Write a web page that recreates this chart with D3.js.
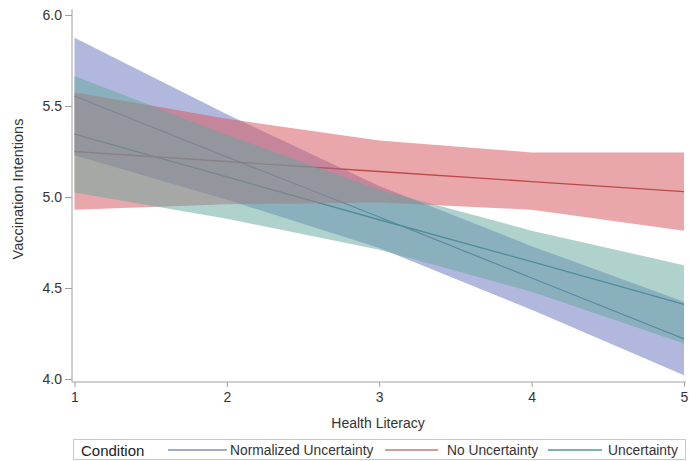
<!DOCTYPE html>
<html>
<head>
<meta charset="utf-8">
<script src="https://cdn.jsdelivr.net/npm/d3@7"></script>
<style>
  body { margin: 0; background: #fff; }
  svg { display: block; font-family: "Liberation Sans", Arial, sans-serif; }
</style>
</head>
<body>
<svg id="chart" width="689" height="461"></svg>
<script>
// ---- data ----
const healthLiteracy = [1, 2, 3, 4, 5];
const conditions = ["Normalized Uncertainty", "No Uncertainty", "Uncertainty"];
const normEst   = [5.555, 5.22, 4.89, 4.555, 4.22];
const normLower = [5.23, 4.985, 4.72, 4.38, 4.02];
const normUpper = [5.875, 5.455, 5.06, 4.73, 4.425];
const noEst     = [5.25, 5.195, 5.14, 5.085, 5.03];
const noLower   = [4.93, 4.96, 4.97, 4.93, 4.815];
const noUpper   = [5.575, 5.43, 5.31, 5.245, 5.245];
const uncEst    = [5.345, 5.11, 4.875, 4.645, 4.41];
const uncLower  = [5.025, 4.88, 4.71, 4.48, 4.195];
const uncUpper  = [5.665, 5.34, 5.04, 4.815, 4.625];
const yTicks = [4.0, 4.5, 5.0, 5.5, 6.0];
const xTicks = [1, 2, 3, 4, 5];

const lineColors = ["#445694", "#a23a2e", "#01665e"];
const fillColors = ["#6b76bd", "#d6575e", "#66a8a0"];

const series = [
  {name: conditions[0], est: normEst, lo: normLower, hi: normUpper},
  {name: conditions[1], est: noEst, lo: noLower, hi: noUpper},
  {name: conditions[2], est: uncEst, lo: uncLower, hi: uncUpper}
];

const svg = d3.select("#chart");
const x = d3.scaleLinear().domain([1, 5]).range([74.5, 684]);
const y = d3.scaleLinear().domain([4, 6]).range([379, 15]);

// lines (drawn beneath the translucent bands)
const line = d3.line().x((d, i) => x(healthLiteracy[i])).y(d => y(d));
series.forEach((s, k) => {
  svg.append("path").attr("d", line(s.est))
    .attr("fill", "none").attr("stroke", lineColors[k]).attr("stroke-width", 1.3);
});
// bands
const area = d3.area()
  .x((d, i) => x(healthLiteracy[i]))
  .y0(d => y(d[0]))
  .y1(d => y(d[1]));
series.forEach((s, k) => {
  const pts = s.lo.map((v, i) => [v, s.hi[i]]);
  svg.append("path").attr("d", area(pts))
    .attr("fill", fillColors[k]).attr("fill-opacity", 0.52);
});

// axes
const axisColor = "#a0a0a0";
const yAxis = svg.append("g").attr("transform", "translate(72,0)")
  .call(d3.axisLeft(y).tickValues(yTicks).tickFormat(d3.format(".1f")).tickSize(7).tickPadding(3).tickSizeOuter(0));
yAxis.select(".domain").remove();
svg.append("line").attr("x1", 72).attr("x2", 72).attr("y1", 9).attr("y2", 382)
  .attr("stroke", axisColor).attr("stroke-width", 1);
const xAxis = svg.append("g").attr("transform", "translate(0,382)")
  .call(d3.axisBottom(x).tickValues(xTicks).tickFormat(d3.format("d")).tickSize(5).tickPadding(5).tickSizeOuter(0));
xAxis.select(".domain").remove();
svg.append("line").attr("x1", 72).attr("x2", 686).attr("y1", 382).attr("y2", 382)
  .attr("stroke", axisColor).attr("stroke-width", 1);
[yAxis, xAxis].forEach(g => {
  g.selectAll(".tick line").attr("stroke", axisColor);
  g.selectAll(".tick text").attr("fill", "#333").style("font-size", "14px")
    .style("font-family", "'Liberation Sans', Arial, sans-serif");
});

// axis titles
svg.append("text").attr("x", 378).attr("y", 428).attr("text-anchor", "middle")
  .attr("fill", "#333").style("font-size", "14px").text("Health Literacy");
svg.append("text").attr("transform", "translate(23,189) rotate(-90)").attr("text-anchor", "middle")
  .attr("fill", "#333").style("font-size", "14.5px").text("Vaccination Intentions");

// legend
svg.append("rect").attr("x", 73.5).attr("y", 439.5).attr("width", 612).attr("height", 20)
  .attr("fill", "#fff").attr("stroke", "#c8c8c8");
svg.append("text").attr("x", 81).attr("y", 455.5).attr("fill", "#222")
  .style("font-size", "15px").text("Condition");
const legendX = [[168, 227, 230], [385, 438, 447], [548, 602, 608]];
conditions.forEach((c, k) => {
  svg.append("line").attr("x1", legendX[k][0]).attr("x2", legendX[k][1])
    .attr("y1", 450).attr("y2", 450).attr("stroke", lineColors[k]).attr("stroke-width", 1.2);
  svg.append("text").attr("x", legendX[k][2]).attr("y", 455).attr("fill", "#333")
    .style("font-size", "13.8px").text(c);
});
</script>
</body>
</html>
